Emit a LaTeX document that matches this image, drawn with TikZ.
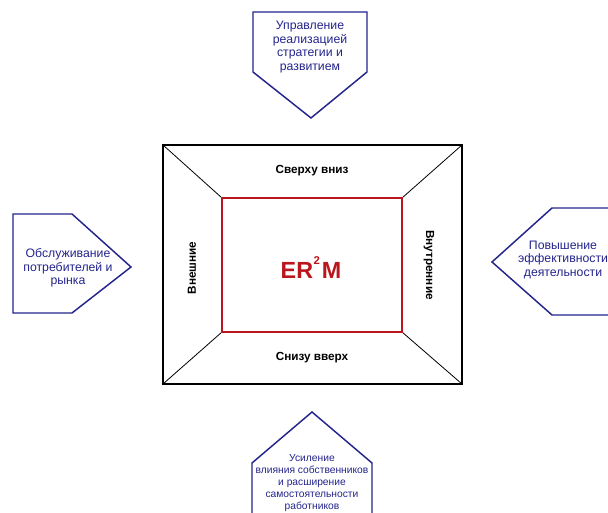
\documentclass[tikz,border=0pt]{standalone}
\usepackage{fontspec}
\setmainfont{Liberation Sans}
\usepackage{xcolor}
\usetikzlibrary{calc,positioning}
\definecolor{pentblue}{RGB}{36,36,140}
\definecolor{ermred}{RGB}{185,22,30}
\tikzset{
  pentagon/.style={draw=pentblue,line width=1.1pt,line join=miter},
  penttext/.style={text=pentblue,align=center,font=\fontsize{9.2}{10.3}\selectfont,inner sep=0pt},
  sidetext/.style={font=\bfseries\fontsize{8.8}{10}\selectfont,inner sep=0pt}
}

\begin{document}
\begin{tikzpicture}[x=0.75pt,y=-0.75pt]
  \useasboundingbox (0,0) rectangle (608,513);
  % outer frame and inner red box
  \coordinate (oNW) at (163,145);
  \coordinate (oNE) at (462,145);
  \coordinate (oSE) at (462,384);
  \coordinate (oSW) at (163,384);
  \coordinate (iNW) at (222,198);
  \coordinate (iNE) at (402,198);
  \coordinate (iSE) at (402,332);
  \coordinate (iSW) at (222,332);
  \draw[line width=1.1pt] (oNW) rectangle (oSE);
  \draw[line width=0.6pt] (oNW) -- (iNW) (oNE) -- (iNE) (oSE) -- (iSE) (oSW) -- (iSW);
  \draw[ermred,line width=1.1pt] (iNW) rectangle (iSE);
  \node[font=\bfseries\fontsize{17.5}{17.5}\selectfont,text=ermred] (erm) at (311,268)
    {ER\kern0.3pt\raisebox{0.6em}{\fontsize{8.5}{8.5}\selectfont 2}\kern1.5pt M};
  \node[sidetext] (top) at (312,171) {Сверху вниз};
  \node[sidetext] (bottom) at (312,358) {Снизу вверх};
  \node[sidetext,rotate=90] (left) at (192,268) {Внешние};
  \node[sidetext,rotate=-90] (right) at (429,265) {Внутренние};
  % four pentagons
  \draw[pentagon] (253,12) -- (367,12) -- (367,72) -- (311,118) -- (253,72) -- cycle;
  \node[penttext] (ptop) at (310,47) {Управление\\реализацией\\стратегии и\\развитием};
  \draw[pentagon] (13,214) -- (72,214) -- (131,267) -- (72,313) -- (13,313) -- cycle;
  \node[penttext] (pleft) at (68,268) {Обслуживание\\потребителей и\\рынка};
  \draw[pentagon] (620,208) -- (552,208) -- (492,262) -- (552,315) -- (620,315);
  \node[penttext] (pright) at (563,260) {Повышение\\эффективности\\деятельности};
  \draw[pentagon] (252,525) -- (252,463) -- (312,412) -- (372,463) -- (372,525);
  \node[penttext,font=\fontsize{7.7}{9}\selectfont] (pbottom) at (312,483) {Усиление\\влияния собственников\\и расширение\\самостоятельности\\работников};
\end{tikzpicture}
\end{document}
